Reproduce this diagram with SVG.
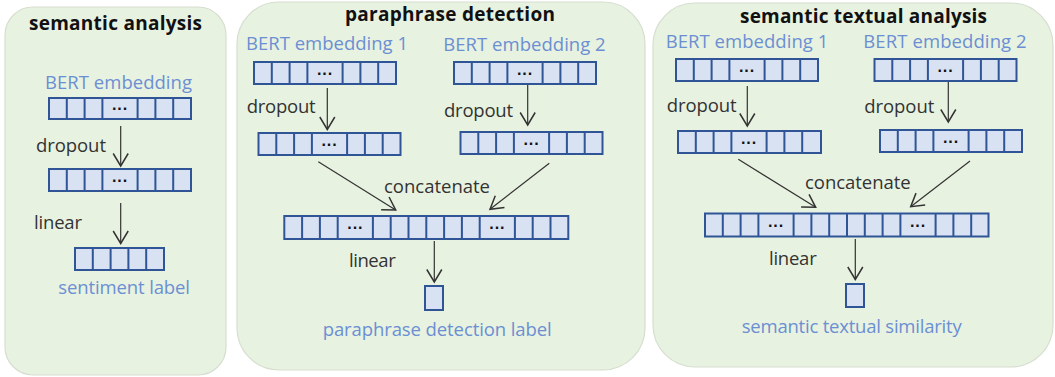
<svg xmlns="http://www.w3.org/2000/svg" width="1055" height="377" viewBox="0 0 1055 377">
<defs>
<style>
.panel{fill:#E8F2E1;stroke:#D6DED0;stroke-width:1.2}
.title{font-family:"Open Sans","Liberation Sans",sans-serif;font-weight:bold;font-size:19px;fill:#111}
.blue{font-family:"Open Sans","Liberation Sans",sans-serif;font-size:18.5px;fill:#6B8FD2}
.lab{font-family:"Open Sans","Liberation Sans",sans-serif;font-size:18.5px;fill:#333}
.vec{fill:#D9E2F3;stroke:#2F5597;stroke-width:2}
.div{fill:none;stroke:#2F5597;stroke-width:2}
.dots{font-family:"Liberation Sans",sans-serif;font-weight:bold;font-size:16px;fill:#111;text-anchor:middle}
.conn{fill:none;stroke:#333;stroke-width:1.2;marker-end:url(#arr)}
</style>
<marker id="arr" markerUnits="userSpaceOnUse" markerWidth="20" markerHeight="20" viewBox="-12 -8 14 16" refX="0" refY="0" orient="auto" overflow="visible">
<path d="M-10,-6 L0,0 L-10,6" fill="none" stroke="#333" stroke-width="1.2"/>
</marker>
</defs>

<g id="panel-semantic-analysis">
<rect class="panel" x="5" y="7" width="221" height="368" rx="28"/>
<text class="title" x="29" y="30" textLength="173">semantic analysis</text>
</g>
<g id="panel-paraphrase-detection">
<rect class="panel" x="237" y="2" width="408" height="368" rx="42"/>
<text class="title" x="345" y="21" textLength="210">paraphrase detection</text>
</g>
<g id="panel-semantic-textual-analysis">
<rect class="panel" x="653" y="3" width="400" height="364" rx="42"/>
<text class="title" x="740" y="23" textLength="247">semantic textual analysis</text>
</g>

<!-- Panel 1 nodes -->
<g id="p1-bert">
<text class="blue" x="45" y="89" textLength="147">BERT embedding</text>
<rect class="vec" x="49" y="98" width="142" height="21"/>
<path class="div" d="M66.8,98v21M84.6,98v21M102.4,98v21M137.6,98v21M155.4,98v21M173.2,98v21"/>
<text class="dots" x="120" y="114">···</text>
</g>
<g id="p1-dropout">
<rect class="vec" x="49" y="169" width="142" height="22"/>
<path class="div" d="M66.8,169v22M84.6,169v22M102.4,169v22M137.6,169v22M155.4,169v22M173.2,169v22"/>
<text class="dots" x="120" y="185.5">···</text>
</g>
<g id="p1-sentiment">
<rect class="vec" x="75" y="248" width="89" height="22"/>
<path class="div" d="M92.8,248v22M110.6,248v22M128.4,248v22M146.2,248v22"/>
<text class="blue" x="58.3" y="294.3" textLength="131.7">sentiment label</text>
</g>

<!-- Panel 2 nodes -->
<g id="p2-bert1">
<text class="blue" x="246" y="50" textLength="162">BERT embedding 1</text>
<rect class="vec" x="254" y="62" width="142" height="22"/>
<path class="div" d="M271.8,62v22M289.6,62v22M307.4,62v22M342.6,62v22M360.4,62v22M378.2,62v22"/>
<text class="dots" x="325" y="78.5">···</text>
</g>
<g id="p2-bert2">
<text class="blue" x="443.3" y="50.7" textLength="162.4">BERT embedding 2</text>
<rect class="vec" x="454" y="62" width="142" height="22"/>
<path class="div" d="M471.8,62v22M489.6,62v22M507.4,62v22M542.6,62v22M560.4,62v22M578.2,62v22"/>
<text class="dots" x="525" y="78.5">···</text>
</g>
<g id="p2-drop1">
<rect class="vec" x="258.5" y="133" width="142" height="22"/>
<path class="div" d="M276.3,133v22M294.1,133v22M311.9,133v22M347.1,133v22M364.9,133v22M382.7,133v22"/>
<text class="dots" x="329.5" y="149.5">···</text>
</g>
<g id="p2-drop2">
<rect class="vec" x="460.5" y="132" width="142" height="22"/>
<path class="div" d="M478.3,132v22M496.1,132v22M513.9,132v22M549.1,132v22M566.9,132v22M584.7,132v22"/>
<text class="dots" x="531.5" y="148.5">···</text>
</g>
<g id="p2-concat">
<rect class="vec" x="284.3" y="216" width="284" height="23"/>
<path class="div" d="M302.1,216v23M319.9,216v23M337.7,216v23M372.9,216v23M390.7,216v23M408.5,216v23M426.3,216v23M444.1,216v23M461.9,216v23M479.7,216v23M514.9,216v23M532.7,216v23M550.5,216v23"/>
<text class="dots" x="355.3" y="233">···</text>
<text class="dots" x="497.3" y="233">···</text>
</g>
<g id="p2-label">
<rect class="vec" x="425" y="286" width="18" height="24"/>
<text class="blue" x="322.7" y="336" textLength="229">paraphrase detection label</text>
</g>

<!-- Panel 3 nodes -->
<g id="p3-bert1">
<text class="blue" x="665.7" y="48.3" textLength="162.6">BERT embedding 1</text>
<rect class="vec" x="676" y="59" width="142" height="22"/>
<path class="div" d="M693.8,59v22M711.6,59v22M729.4,59v22M764.6,59v22M782.4,59v22M800.2,59v22"/>
<text class="dots" x="747" y="75.5">···</text>
</g>
<g id="p3-bert2">
<text class="blue" x="863.3" y="48.3" textLength="163.4">BERT embedding 2</text>
<rect class="vec" x="874.5" y="59" width="142" height="22"/>
<path class="div" d="M892.3,59v22M910.1,59v22M927.9,59v22M963.1,59v22M980.9,59v22M998.7,59v22"/>
<text class="dots" x="945.5" y="75.5">···</text>
</g>
<g id="p3-drop1">
<rect class="vec" x="678" y="131" width="143" height="22"/>
<path class="div" d="M695.8,131v22M713.6,131v22M731.4,131v22M766.6,131v22M784.4,131v22M802.2,131v22"/>
<text class="dots" x="749" y="147.5">···</text>
</g>
<g id="p3-drop2">
<rect class="vec" x="880" y="130" width="142" height="22"/>
<path class="div" d="M897.8,130v22M915.6,130v22M933.4,130v22M968.6,130v22M986.4,130v22M1004.2,130v22"/>
<text class="dots" x="951" y="146.5">···</text>
</g>
<g id="p3-concat">
<rect class="vec" x="705" y="213.5" width="283.5" height="23"/>
<path class="div" d="M722.8,213.5v23M740.6,213.5v23M758.4,213.5v23M793.6,213.5v23M811.4,213.5v23M829.2,213.5v23M847,213.5v23M864.8,213.5v23M882.6,213.5v23M900.4,213.5v23M935.6,213.5v23M953.4,213.5v23M971.2,213.5v23"/>
<text class="dots" x="776" y="230.5">···</text>
<text class="dots" x="918" y="230.5">···</text>
</g>
<g id="p3-label">
<rect class="vec" x="846" y="284" width="18" height="23"/>
<text class="blue" x="741.7" y="333.3" textLength="220">semantic textual similarity</text>
</g>

<!-- Connectors -->
<g id="connectors">
<path class="conn" d="M120.7,126V166"/>
<path class="conn" d="M120.7,203V243.5"/>
<path class="conn" d="M327.3,88V129.5"/>
<path class="conn" d="M527.7,85V125"/>
<path class="conn" d="M318.3,161.7L395.7,210"/>
<path class="conn" d="M549.3,163.3L490,209.3"/>
<path class="conn" d="M434.3,241V282"/>
<path class="conn" d="M747.3,86V126"/>
<path class="conn" d="M948.3,82V122"/>
<path class="conn" d="M738.3,159.3L815.7,207.3"/>
<path class="conn" d="M970,161L910.7,206.7"/>
<path class="conn" d="M855.3,239V279.5"/>
<text class="lab" x="36" y="152" textLength="70">dropout</text>
<text class="lab" x="34" y="228.5" textLength="48">linear</text>
<text class="lab" x="246.7" y="113.3" textLength="69">dropout</text>
<text class="lab" x="444" y="116.7" textLength="69">dropout</text>
<text class="lab" x="384" y="192.5" textLength="106">concatenate</text>
<text class="lab" x="349" y="267.3" textLength="46.7">linear</text>
<text class="lab" x="666.7" y="111.7" textLength="70">dropout</text>
<text class="lab" x="864.3" y="113.3" textLength="70">dropout</text>
<text class="lab" x="805" y="188.5" textLength="105.7">concatenate</text>
<text class="lab" x="769" y="265" textLength="47.7">linear</text>
</g>
</svg>
